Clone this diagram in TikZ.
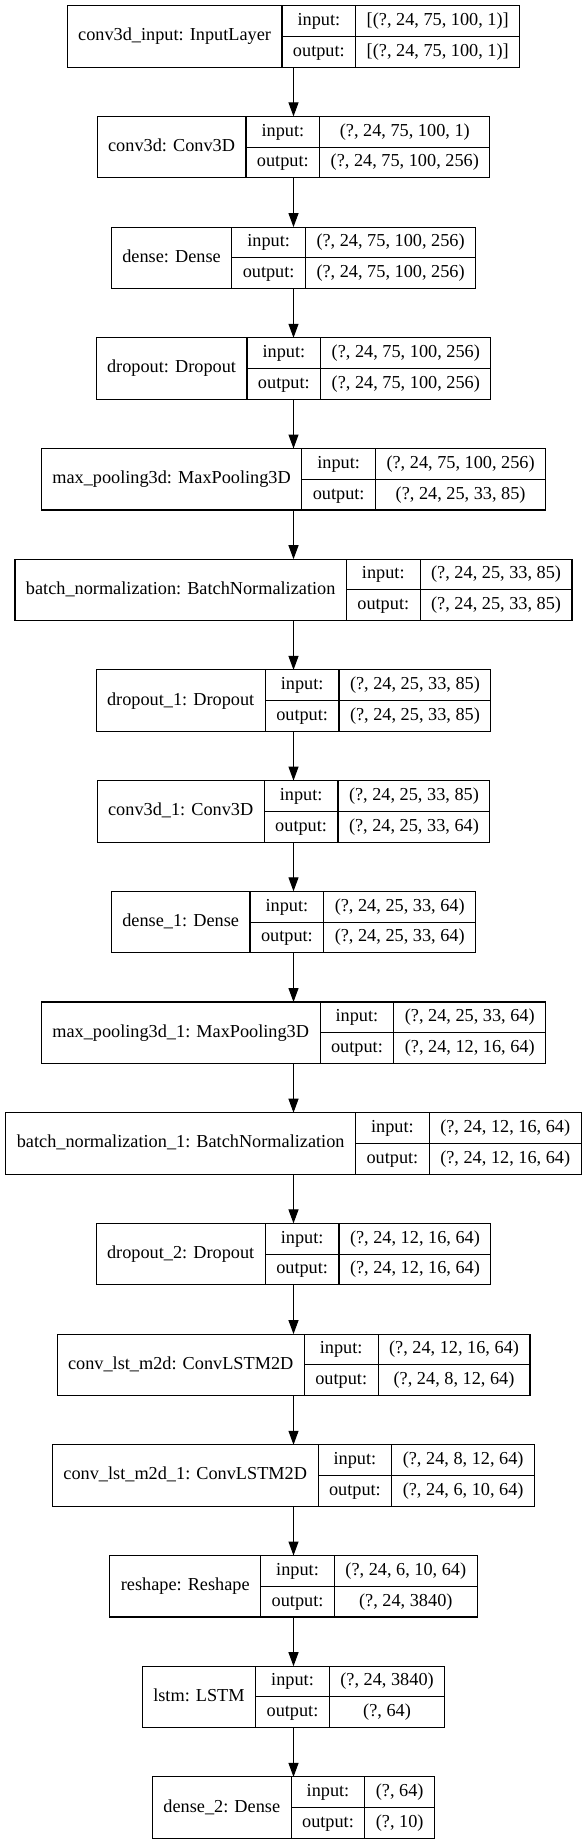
\documentclass[tikz,border=0pt]{standalone}
\usepackage{fontspec}
\setmainfont{Liberation Serif}
\usepackage{tikz}
\usetikzlibrary{arrows.meta, positioning, fit, calc}

\newcommand{\layerfont}{\fontsize{13.7pt}{16pt}\selectfont}
\font\layermeasure="Liberation Serif" at 13.7pt
\newlength\namew
\newlength\keyw
\newlength\valw
\newlength\halfw
\newlength\cellpad
\setlength\cellpad{8.25pt}

% #1 node name, #2 row, #3 layer label, #4 input shape, #5 output shape
\newcommand{\layer}[5]{%
  \settowidth\namew{\layermeasure #3}\addtolength\namew{2\cellpad}%
  \settowidth\keyw{\layermeasure output:}\addtolength\keyw{2\cellpad}%
  \settowidth\valw{\layermeasure #4}\settowidth\halfw{\layermeasure #5}%
  \ifdim\halfw>\valw \setlength\valw{\halfw}\fi
  \addtolength\valw{2\cellpad}%
  \setlength\halfw{\namew}\addtolength\halfw{\keyw}\addtolength\halfw{\valw}%
  \setlength\halfw{0.5\halfw}%
  \pgfmathsetmacro\rowtop{5.7+(#2-1)*110.7}%
  \node[namecell, minimum width=\namew, anchor=north west] (#1-name) at ([xshift=-\halfw]293.5,\rowtop) {#3};
  \node[keycell, minimum width=\keyw, anchor=north west] (#1-ki) at (#1-name.north east) {input:};
  \node[keycell, minimum width=\keyw, anchor=north west] (#1-ko) at (#1-ki.south west) {output:};
  \node[keycell, minimum width=\valw, anchor=north west] (#1-vi) at (#1-ki.north east) {#4};
  \node[keycell, minimum width=\valw, anchor=north west] (#1-vo) at (#1-ki.south east) {#5};
  \node[fit=(#1-name)(#1-vo), inner sep=0pt, outer sep=0pt] (#1) {};
}

\begin{document}
\begin{tikzpicture}[
    x=0.75pt, y=-0.75pt,
    font=\layerfont,
    cell/.style={rectangle, draw=black, line width=0.8pt, inner sep=0pt, outer sep=0pt, align=center, text height=9.6pt, text depth=3pt},
    namecell/.style={cell, minimum height=46.1pt},
    keycell/.style={cell, minimum height=23.05pt},
    arrow/.style={-{Triangle[length=10.5pt, width=7.5pt]}, line width=0.8pt, color=black}
]
    \useasboundingbox[fill=white] (0,0) rectangle (587,1844);

    \layer{c3din}{1}{conv3d\_input: InputLayer}{[(?, 24, 75, 100, 1)]}{[(?, 24, 75, 100, 1)]}
    \layer{c3d}{2}{conv3d: Conv3D}{(?, 24, 75, 100, 1)}{(?, 24, 75, 100, 256)}
    \layer{dense}{3}{dense: Dense}{(?, 24, 75, 100, 256)}{(?, 24, 75, 100, 256)}
    \layer{drop}{4}{dropout: Dropout}{(?, 24, 75, 100, 256)}{(?, 24, 75, 100, 256)}
    \layer{pool}{5}{max\_pooling3d: MaxPooling3D}{(?, 24, 75, 100, 256)}{(?, 24, 25, 33, 85)}
    \layer{bnorm}{6}{batch\_normalization: BatchNormalization}{(?, 24, 25, 33, 85)}{(?, 24, 25, 33, 85)}
    \layer{drop1}{7}{dropout\_1: Dropout}{(?, 24, 25, 33, 85)}{(?, 24, 25, 33, 85)}
    \layer{c3d1}{8}{conv3d\_1: Conv3D}{(?, 24, 25, 33, 85)}{(?, 24, 25, 33, 64)}
    \layer{dense1}{9}{dense\_1: Dense}{(?, 24, 25, 33, 64)}{(?, 24, 25, 33, 64)}
    \layer{pool1}{10}{max\_pooling3d\_1: MaxPooling3D}{(?, 24, 25, 33, 64)}{(?, 24, 12, 16, 64)}
    \layer{bnorm1}{11}{batch\_normalization\_1: BatchNormalization}{(?, 24, 12, 16, 64)}{(?, 24, 12, 16, 64)}
    \layer{drop2}{12}{dropout\_2: Dropout}{(?, 24, 12, 16, 64)}{(?, 24, 12, 16, 64)}
    \layer{clstm}{13}{conv\_lst\_m2d: ConvLSTM2D}{(?, 24, 12, 16, 64)}{(?, 24, 8, 12, 64)}
    \layer{clstm1}{14}{conv\_lst\_m2d\_1: ConvLSTM2D}{(?, 24, 8, 12, 64)}{(?, 24, 6, 10, 64)}
    \layer{reshape}{15}{reshape: Reshape}{(?, 24, 6, 10, 64)}{(?, 24, 3840)}
    \layer{lstm}{16}{lstm: LSTM}{(?, 24, 3840)}{(?, 64)}
    \layer{dense2}{17}{dense\_2: Dense}{(?, 64)}{(?, 10)}

    \draw[arrow] (c3din.south) -- (c3d.north);
    \draw[arrow] (c3d.south) -- (dense.north);
    \draw[arrow] (dense.south) -- (drop.north);
    \draw[arrow] (drop.south) -- (pool.north);
    \draw[arrow] (pool.south) -- (bnorm.north);
    \draw[arrow] (bnorm.south) -- (drop1.north);
    \draw[arrow] (drop1.south) -- (c3d1.north);
    \draw[arrow] (c3d1.south) -- (dense1.north);
    \draw[arrow] (dense1.south) -- (pool1.north);
    \draw[arrow] (pool1.south) -- (bnorm1.north);
    \draw[arrow] (bnorm1.south) -- (drop2.north);
    \draw[arrow] (drop2.south) -- (clstm.north);
    \draw[arrow] (clstm.south) -- (clstm1.north);
    \draw[arrow] (clstm1.south) -- (reshape.north);
    \draw[arrow] (reshape.south) -- (lstm.north);
    \draw[arrow] (lstm.south) -- (dense2.north);
\end{tikzpicture}
\end{document}
